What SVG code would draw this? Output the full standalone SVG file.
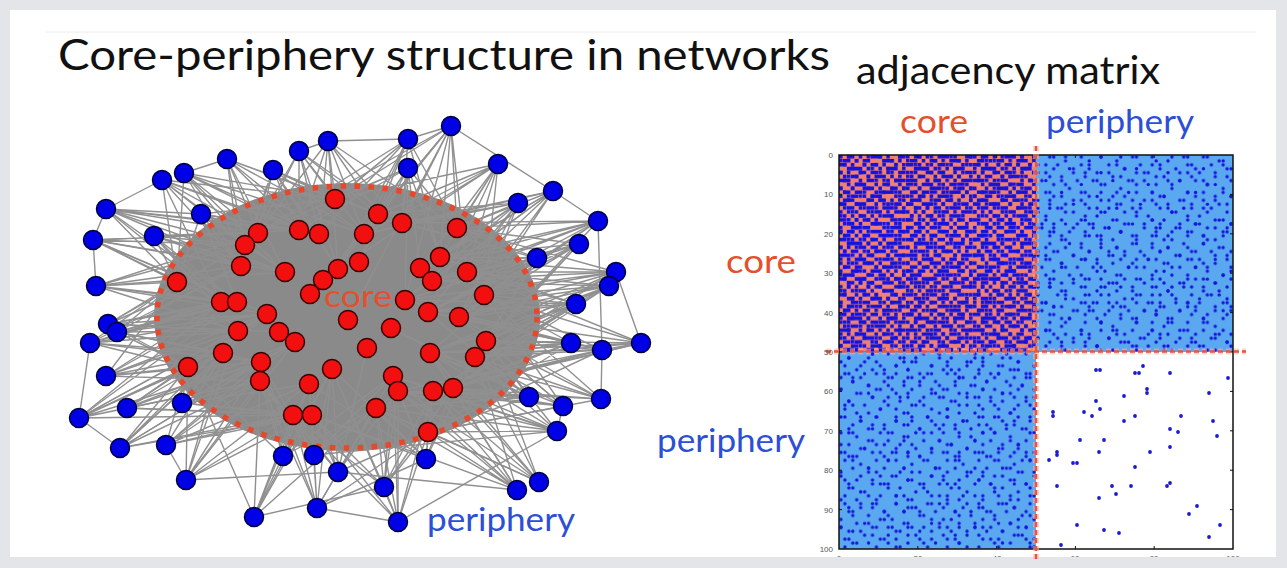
<svg xmlns="http://www.w3.org/2000/svg" width="1287" height="568" viewBox="0 0 1287 568">
<style>
.t{font-family:Lato,"Open Sans","Liberation Sans",sans-serif}
.core{fill:#e4502c}
.per{fill:#2b4fd6}
.bn{fill:#0000e6;stroke:#00003a;stroke-width:1.5}
.rn{fill:#f20f0f;stroke:#3a0000;stroke-width:1.5}
.tick{font-family:"Liberation Sans",Arial,sans-serif;font-size:8px;fill:#555}
.edge{fill:none;stroke:#909090;stroke-width:1.4;stroke-linejoin:round}
</style>
<defs>
<clipPath id="slide"><rect x="10" y="10" width="1266" height="547"/></clipPath>
<!-- dense block of the adjacency matrix: two co-prime tiles of filled cells -->
<pattern id="pA" patternUnits="userSpaceOnUse" width="17" height="19" patternTransform="translate(839 155) scale(3.94)">
<path fill="#1414dc" d="M0 0h.9v.9h-.9zM2 0h1.9v.9h-1.9zM5 0h.9v.9h-.9zM8 0h2.9v.9h-2.9zM12 0h.9v.9h-.9zM15 0h1.9v.9h-1.9z
M1 1h1.9v.9h-1.9zM4 1h.9v.9h-.9zM6 1h1.9v.9h-1.9zM11 1h2.9v.9h-2.9zM15 1h.9v.9h-.9z
M0 2h1.9v.9h-1.9zM3 2h.9v.9h-.9zM6 2h.9v.9h-.9zM8 2h1.9v.9h-1.9zM11 2h.9v.9h-.9zM14 2h.9v.9h-.9zM16 2h.9v.9h-.9z
M2 3h3.9v.9h-3.9zM7 3h.9v.9h-.9zM10 3h.9v.9h-.9zM12 3h2.9v.9h-2.9z
M0 4h.9v.9h-.9zM2 4h.9v.9h-.9zM5 4h1.9v.9h-1.9zM8 4h1.9v.9h-1.9zM12 4h.9v.9h-.9zM15 4h1.9v.9h-1.9z
M1 5h.9v.9h-.9zM3 5h1.9v.9h-1.9zM7 5h.9v.9h-.9zM9 5h2.9v.9h-2.9zM13 5h.9v.9h-.9z
M0 6h2.9v.9h-2.9zM5 6h.9v.9h-.9zM7 6h1.9v.9h-1.9zM12 6h.9v.9h-.9zM14 6h2.9v.9h-2.9z
M2 7h.9v.9h-.9zM4 7h2.9v.9h-2.9zM9 7h.9v.9h-.9zM11 7h1.9v.9h-1.9zM15 7h.9v.9h-.9z
M0 8h.9v.9h-.9zM3 8h.9v.9h-.9zM6 8h2.9v.9h-2.9zM10 8h.9v.9h-.9zM13 8h1.9v.9h-1.9zM16 8h.9v.9h-.9z
M1 9h1.9v.9h-1.9zM4 9h1.9v.9h-1.9zM9 9h.9v.9h-.9zM11 9h2.9v.9h-2.9zM15 9h.9v.9h-.9z
M0 10h.9v.9h-.9zM3 10h1.9v.9h-1.9zM6 10h.9v.9h-.9zM8 10h2.9v.9h-2.9zM14 10h.9v.9h-.9zM16 10h.9v.9h-.9z
M1 11h2.9v.9h-2.9zM7 11h1.9v.9h-1.9zM10 11h1.9v.9h-1.9zM13 11h.9v.9h-.9zM16 11h.9v.9h-.9z
M0 12h1.9v.9h-1.9zM4 12h2.9v.9h-2.9zM9 12h.9v.9h-.9zM12 12h.9v.9h-.9zM14 12h1.9v.9h-1.9z
M2 13h1.9v.9h-1.9zM5 13h.9v.9h-.9zM7 13h1.9v.9h-1.9zM11 13h2.9v.9h-2.9zM16 13h.9v.9h-.9z
M0 14h.9v.9h-.9zM2 14h.9v.9h-.9zM4 14h.9v.9h-.9zM7 14h.9v.9h-.9zM9 14h1.9v.9h-1.9zM14 14h2.9v.9h-2.9z
M1 15h.9v.9h-.9zM3 15h.9v.9h-.9zM5 15h1.9v.9h-1.9zM8 15h.9v.9h-.9zM11 15h2.9v.9h-2.9z
M0 16h1.9v.9h-1.9zM4 16h.9v.9h-.9zM6 16h1.9v.9h-1.9zM9 16h.9v.9h-.9zM13 16h1.9v.9h-1.9zM16 16h.9v.9h-.9z
M2 17h1.9v.9h-1.9zM5 17h.9v.9h-.9zM8 17h2.9v.9h-2.9zM12 17h.9v.9h-.9zM15 17h.9v.9h-.9z
M0 18h.9v.9h-.9zM3 18h1.9v.9h-1.9zM6 18h1.9v.9h-1.9zM11 18h.9v.9h-.9zM13 18h2.9v.9h-2.9z"/>
</pattern>
<pattern id="pB" patternUnits="userSpaceOnUse" width="13" height="11" patternTransform="translate(839 155) scale(3.94)">
<path fill="#1414dc" d="M2 0h.9v.9h-.9zM7 0h.9v.9h-.9zM10 0h.9v.9h-.9zM0 1h.9v.9h-.9zM4 1h.9v.9h-.9zM11 1h.9v.9h-.9zM1 2h.9v.9h-.9zM6 2h.9v.9h-.9zM9 2h.9v.9h-.9zM3 3h.9v.9h-.9zM8 3h.9v.9h-.9zM12 3h.9v.9h-.9zM0 4h.9v.9h-.9zM5 4h.9v.9h-.9zM10 4h.9v.9h-.9zM2 5h.9v.9h-.9zM4 5h.9v.9h-.9zM7 5h.9v.9h-.9zM1 6h.9v.9h-.9zM9 6h.9v.9h-.9zM11 6h.9v.9h-.9zM4 7h1.9v.9h-1.9zM12 7h.9v.9h-.9zM0 8h.9v.9h-.9zM3 8h.9v.9h-.9zM7 8h.9v.9h-.9zM1 9h.9v.9h-.9zM6 9h.9v.9h-.9zM10 9h1.9v.9h-1.9zM2 10h.9v.9h-.9zM5 10h.9v.9h-.9zM8 10h.9v.9h-.9z"/>
</pattern>
<!-- sparse core-periphery blocks -->
<pattern id="pC" patternUnits="userSpaceOnUse" width="13" height="11" patternTransform="translate(839 155) scale(3.94)">
<g fill="#1414dc"><circle cx="1.5" cy=".5" r=".43"/><circle cx="9.5" cy=".5" r=".43"/><circle cx="5.5" cy="1.5" r=".43"/><circle cx="3.5" cy="2.5" r=".43"/><circle cx="11.5" cy="2.5" r=".43"/><circle cx="7.5" cy="3.5" r=".43"/><circle cx=".5" cy="4.5" r=".43"/><circle cx="10.5" cy="4.5" r=".43"/><circle cx="4.5" cy="5.5" r=".43"/><circle cx="8.5" cy="6.5" r=".43"/><circle cx="12.5" cy="6.5" r=".43"/><circle cx="2.5" cy="7.5" r=".43"/><circle cx="6.5" cy="8.5" r=".43"/><circle cx="1.5" cy="9.5" r=".43"/><circle cx="10.5" cy="9.5" r=".43"/><circle cx="4.5" cy="10.5" r=".43"/></g>
</pattern>
<pattern id="pD" patternUnits="userSpaceOnUse" width="9" height="7" patternTransform="translate(839 155) scale(3.94)">
<g fill="#1414dc"><circle cx="3.5" cy=".5" r=".43"/><circle cx="7.5" cy="2.5" r=".43"/><circle cx=".5" cy="3.5" r=".43"/><circle cx="5.5" cy="4.5" r=".43"/><circle cx="8.5" cy="5.5" r=".43"/><circle cx="2.5" cy="6.5" r=".43"/></g>
</pattern>
<pattern id="pE" patternUnits="userSpaceOnUse" width="17" height="19" patternTransform="translate(839 155) scale(3.94)">
<g fill="#1414dc"><circle cx="3.5" cy=".5" r=".43"/><circle cx="12.5" cy="1.5" r=".43"/><circle cx="7.5" cy="3.5" r=".43"/><circle cx="15.5" cy="4.5" r=".43"/><circle cx="1.5" cy="6.5" r=".43"/><circle cx="10.5" cy="7.5" r=".43"/><circle cx="5.5" cy="9.5" r=".43"/><circle cx="14.5" cy="10.5" r=".43"/><circle cx="8.5" cy="12.5" r=".43"/><circle cx="2.5" cy="13.5" r=".43"/><circle cx="16.5" cy="14.5" r=".43"/><circle cx="11.5" cy="16.5" r=".43"/><circle cx="6.5" cy="17.5" r=".43"/><circle cx=".5" cy="18.5" r=".43"/><circle cx="13.5" cy="18.5" r=".43"/></g>
</pattern>
</defs>

<!-- page background and slide -->
<rect width="1287" height="568" fill="#e4e5e8"/>
<rect x="10" y="10" width="1266" height="547" fill="#fff"/>
<line x1="45" y1="32" x2="1256" y2="32" stroke="#ececec" stroke-width="1"/>

<text class="t" x="58" y="70" font-size="43" fill="#111" textLength="772" lengthAdjust="spacingAndGlyphs">Core-periphery structure in networks</text>
<text class="t" x="856" y="84" font-size="39" fill="#111" textLength="304" lengthAdjust="spacingAndGlyphs">adjacency matrix</text>

<!-- network: dense core of edges -->
<ellipse cx="347" cy="317" rx="193" ry="134" fill="#8a8a8a"/>

<g id="connectors" class="edge">
<path d="M451 126L335 199 451 126 378 214 451 126 402 223 451 126 457 228 451 126 364 234 451 126 440 257 451 126 467 272 451 126 348 320 451 126 553 191 451 126 408 139"/>
<path d="M408 139L335 199 408 139 378 214 408 139 299 230 408 139 319 234 408 139 364 234 408 139 402 223 408 139 359 262 408 139 338 269"/>
<path d="M408 168L335 199 408 168 402 223 408 168 457 228 408 168 364 234 408 168 359 262 408 168 420 268 408 168 338 269 408 168 258 233"/>
<path d="M498 164L378 214 498 164 402 223 498 164 457 228 498 164 440 257 498 164 467 272 498 164 484 295 498 164 338 269 498 164 364 234"/>
<path d="M553 191L457 228 553 191 440 257 553 191 467 272 553 191 484 295 553 191 432 281 553 191 459 317 553 191 402 223 553 191 598 221"/>
<path d="M518 203L402 223 518 203 457 228 518 203 420 268 518 203 467 272 518 203 484 295 518 203 428 312 518 203 364 234 518 203 405 300"/>
<path d="M598 221L457 228 598 221 467 272 598 221 484 295 598 221 459 317 598 221 486 341 598 221 432 281 598 221 440 257 598 221 602 350"/>
<path d="M579 244L440 257 579 244 467 272 579 244 484 295 579 244 459 317 579 244 486 341 579 244 475 357 579 244 432 281"/>
<path d="M537 258L457 228 537 258 467 272 537 258 484 295 537 258 432 281 537 258 428 312 537 258 459 317 537 258 486 341 537 258 430 353 537 258 405 300"/>
<path d="M616 272L467 272 616 272 484 295 616 272 459 317 616 272 486 341 616 272 475 357 616 272 405 300 616 272 440 257 616 272 641 343"/>
<path d="M609 286L484 295 609 286 459 317 609 286 486 341 609 286 475 357 609 286 430 353 609 286 428 312 609 286 453 388"/>
<path d="M576 304L484 295 576 304 459 317 576 304 486 341 576 304 475 357 576 304 430 353 576 304 453 388 576 304 405 300 576 304 467 272"/>
<path d="M571 343L486 341 571 343 475 357 571 343 453 388 571 343 430 353 571 343 459 317 571 343 433 391 571 343 484 295"/>
<path d="M602 350L486 341 602 350 475 357 602 350 453 388 602 350 433 391 602 350 459 317 602 350 484 295 602 350 428 432 602 350 641 343 602 350 601 399"/>
<path d="M641 343L486 341 641 343 475 357 641 343 484 295 641 343 459 317 641 343 453 388"/>
<path d="M529 397L475 357 529 397 453 388 529 397 433 391 529 397 428 432 529 397 430 353 529 397 398 391 529 397 486 341"/>
<path d="M563 406L475 357 563 406 453 388 563 406 433 391 563 406 428 432 563 406 486 341 563 406 430 353 563 406 557 431"/>
<path d="M601 399L475 357 601 399 453 388 601 399 486 341 601 399 433 391 601 399 428 432"/>
<path d="M557 431L453 388 557 431 433 391 557 431 428 432 557 431 398 391 557 431 376 408 557 431 475 357 557 431 398 522"/>
<path d="M426 459L428 432 426 459 376 408 426 459 398 391 426 459 433 391 426 459 393 376 426 459 312 415 426 459 453 388"/>
<path d="M338 472L312 415 338 472 293 415 338 472 376 408 338 472 428 432 338 472 309 384 338 472 332 369 338 472 398 391 338 472 517 490"/>
<path d="M384 487L376 408 384 487 428 432 384 487 398 391 384 487 312 415 384 487 293 415 384 487 393 376 384 487 433 391 384 487 398 522"/>
<path d="M517 490L428 432 517 490 433 391 517 490 453 388 517 490 376 408 517 490 398 391 517 490 475 357"/>
<path d="M539 482L428 432 539 482 453 388 539 482 433 391 539 482 475 357 539 482 398 391"/>
<path d="M398 522L376 408 398 522 428 432 398 522 312 415 398 522 398 391 398 522 293 415 398 522 317 508"/>
<path d="M317 508L293 415 317 508 312 415 317 508 309 384 317 508 376 408 317 508 260 381 317 508 428 432 317 508 314 455 317 508 426 459"/>
<path d="M254 517L293 415 254 517 260 381 254 517 312 415 254 517 261 362 254 517 309 384 254 517 283 456 254 517 384 487"/>
<path d="M186 480L293 415 186 480 260 381 186 480 188 367 186 480 261 362 186 480 223 353 186 480 312 415 186 480 166 445 186 480 338 472"/>
<path d="M283 456L293 415 283 456 312 415 283 456 260 381 283 456 309 384 283 456 261 362 283 456 376 408"/>
<path d="M314 455L293 415 314 455 312 415 314 455 309 384 314 455 332 369 314 455 376 408 314 455 260 381 314 455 557 431"/>
<path d="M166 445L188 367 166 445 260 381 166 445 223 353 166 445 261 362 166 445 293 415 166 445 238 331"/>
<path d="M120 448L188 367 120 448 223 353 120 448 260 381 120 448 261 362 120 448 238 331 120 448 293 415 120 448 79 418"/>
<path d="M79 418L188 367 79 418 223 353 79 418 238 331 79 418 221 302 79 418 261 362 79 418 260 381 79 418 90 343 79 418 127 408"/>
<path d="M127 408L188 367 127 408 223 353 127 408 260 381 127 408 238 331 127 408 261 362 127 408 293 415"/>
<path d="M182 403L188 367 182 403 260 381 182 403 261 362 182 403 223 353 182 403 293 415 182 403 238 331"/>
<path d="M106 376L188 367 106 376 223 353 106 376 238 331 106 376 221 302 106 376 177 282 106 376 261 362"/>
<path d="M90 343L177 282 90 343 221 302 90 343 188 367 90 343 238 331 90 343 223 353 90 343 237 302"/>
<path d="M108 324L177 282 108 324 221 302 108 324 237 302 108 324 188 367 108 324 238 331 108 324 241 266"/>
<path d="M117 332L177 282 117 332 221 302 117 332 238 331 117 332 188 367 117 332 223 353 117 332 237 302"/>
<path d="M96 286L177 282 96 286 221 302 96 286 241 266 96 286 237 302 96 286 245 245 96 286 238 331 96 286 93 240"/>
<path d="M93 240L177 282 93 240 241 266 93 240 245 245 93 240 221 302 93 240 258 233 93 240 237 302 93 240 106 209"/>
<path d="M106 209L245 245 106 209 258 233 106 209 241 266 106 209 177 282 106 209 299 230 106 209 237 302 106 209 162 180 106 209 201 214"/>
<path d="M154 236L177 282 154 236 245 245 154 236 241 266 154 236 258 233 154 236 221 302 154 236 285 272"/>
<path d="M201 214L258 233 201 214 245 245 201 214 241 266 201 214 177 282 201 214 299 230 201 214 335 199"/>
<path d="M162 180L258 233 162 180 245 245 162 180 299 230 162 180 177 282 162 180 241 266 162 180 335 199"/>
<path d="M184 173L258 233 184 173 245 245 184 173 299 230 184 173 319 234 184 173 335 199 184 173 241 266 184 173 227 159"/>
<path d="M227 159L335 199 227 159 258 233 227 159 299 230 227 159 319 234 227 159 245 245 227 159 378 214"/>
<path d="M273 170L335 199 273 170 299 230 273 170 319 234 273 170 258 233 273 170 364 234 273 170 378 214"/>
<path d="M299 151L335 199 299 151 378 214 299 151 299 230 299 151 319 234 299 151 364 234 299 151 258 233"/>
<path d="M328 141L335 199 328 141 378 214 328 141 364 234 328 141 319 234 328 141 299 230 328 141 402 223 328 141 299 151 328 141 408 139"/>
<!-- longer links from each periphery node deeper into the core -->
<path d="M451 126L258 233 451 126 405 300 451 126 323 280M408 139L457 228 408 139 440 257 408 139 258 233M408 168L299 230 408 168 440 257 408 168 405 300M498 164L335 199 498 164 420 268 498 164 428 312M553 191L364 234 553 191 420 268 553 191 405 300M518 203L378 214 518 203 440 257 518 203 459 317M598 221L402 223 598 221 420 268 598 221 428 312M579 244L457 228 579 244 428 312 579 244 405 300M537 258L402 223 537 258 440 257 537 258 475 357M616 272L457 228 616 272 432 281 616 272 430 353M609 286L467 272 609 286 432 281 609 286 433 391M576 304L440 257 576 304 428 312 576 304 433 391M571 343L405 300 571 343 428 312 571 343 428 432M602 350L405 300 602 350 430 353 602 350 398 391M641 343L467 272 641 343 430 353 641 343 433 391M529 397L428 312 529 397 391 328 529 397 376 408M563 406L459 317 563 406 484 295 563 406 398 391M601 399L459 317 601 399 430 353 601 399 484 295M557 431L430 353 557 431 486 341 557 431 393 376M426 459L475 357 426 459 332 369 426 459 309 384M338 472L393 376 338 472 260 381 338 472 367 348M384 487L332 369 384 487 453 388 384 487 475 357M517 490L430 353 517 490 393 376 517 490 312 415M539 482L486 341 539 482 430 353 539 482 376 408M398 522L393 376 398 522 433 391 398 522 332 369M317 508L332 369 317 508 393 376 317 508 261 362M254 517L188 367 254 517 332 369 254 517 376 408M186 480L238 331 186 480 295 342 186 480 309 384M283 456L188 367 283 456 393 376 283 456 332 369M314 455L398 391 314 455 261 362 314 455 393 376M166 445L309 384 166 445 312 415 166 445 295 342M120 448L312 415 120 448 295 342 120 448 267 314M79 418L267 314 79 418 293 415 79 418 237 302M127 408L267 314 127 408 295 342 127 408 312 415M182 403L312 415 182 403 295 342 182 403 309 384M106 376L260 381 106 376 267 314 106 376 237 302M90 343L267 314 90 343 261 362 90 343 241 266M108 324L267 314 108 324 245 245 108 324 279 332M117 332L267 314 117 332 261 362 117 332 241 266M96 286L267 314 96 286 258 233 96 286 285 272M93 240L299 230 93 240 285 272 93 240 267 314M106 209L221 302 106 209 285 272 106 209 319 234M154 236L299 230 154 236 237 302 154 236 238 331M201 214L319 234 201 214 285 272 201 214 237 302M162 180L319 234 162 180 285 272 162 180 221 302M184 173L285 272 184 173 177 282 184 173 364 234M227 159L241 266 227 159 285 272 227 159 364 234M273 170L245 245 273 170 241 266 273 170 338 269M299 151L245 245 299 151 338 269 299 151 402 223M328 141L258 233 328 141 338 269 328 141 457 228"/>
</g>

<!-- boundary of the core -->
<ellipse cx="347" cy="317" rx="190" ry="131" fill="none" stroke="#e8472a" stroke-width="5.5" stroke-dasharray="5.5 8.5"/>
<text class="t core" x="324" y="307" font-size="30" textLength="68" lengthAdjust="spacingAndGlyphs">core</text>

<!-- core nodes -->
<g id="core-01"><circle class="rn" cx="335" cy="199" r="9.5"/></g>
<g id="core-02"><circle class="rn" cx="378" cy="214" r="9.5"/></g>
<g id="core-03"><circle class="rn" cx="402" cy="223" r="9.5"/></g>
<g id="core-04"><circle class="rn" cx="457" cy="228" r="9.5"/></g>
<g id="core-05"><circle class="rn" cx="258" cy="233" r="9.5"/></g>
<g id="core-06"><circle class="rn" cx="245" cy="245" r="9.5"/></g>
<g id="core-07"><circle class="rn" cx="299" cy="230" r="9.5"/></g>
<g id="core-08"><circle class="rn" cx="319" cy="234" r="9.5"/></g>
<g id="core-09"><circle class="rn" cx="364" cy="234" r="9.5"/></g>
<g id="core-10"><circle class="rn" cx="241" cy="266" r="9.5"/></g>
<g id="core-11"><circle class="rn" cx="285" cy="272" r="9.5"/></g>
<g id="core-12"><circle class="rn" cx="338" cy="269" r="9.5"/></g>
<g id="core-13"><circle class="rn" cx="323" cy="280" r="9.5"/></g>
<g id="core-14"><circle class="rn" cx="310" cy="294" r="9.5"/></g>
<g id="core-15"><circle class="rn" cx="359" cy="262" r="9.5"/></g>
<g id="core-16"><circle class="rn" cx="440" cy="257" r="9.5"/></g>
<g id="core-17"><circle class="rn" cx="420" cy="268" r="9.5"/></g>
<g id="core-18"><circle class="rn" cx="432" cy="281" r="9.5"/></g>
<g id="core-19"><circle class="rn" cx="467" cy="272" r="9.5"/></g>
<g id="core-20"><circle class="rn" cx="484" cy="295" r="9.5"/></g>
<g id="core-21"><circle class="rn" cx="405" cy="300" r="9.5"/></g>
<g id="core-22"><circle class="rn" cx="177" cy="282" r="9.5"/></g>
<g id="core-23"><circle class="rn" cx="221" cy="302" r="9.5"/></g>
<g id="core-24"><circle class="rn" cx="237" cy="302" r="9.5"/></g>
<g id="core-25"><circle class="rn" cx="267" cy="314" r="9.5"/></g>
<g id="core-26"><circle class="rn" cx="348" cy="320" r="9.5"/></g>
<g id="core-27"><circle class="rn" cx="428" cy="312" r="9.5"/></g>
<g id="core-28"><circle class="rn" cx="459" cy="317" r="9.5"/></g>
<g id="core-29"><circle class="rn" cx="391" cy="328" r="9.5"/></g>
<g id="core-30"><circle class="rn" cx="238" cy="331" r="9.5"/></g>
<g id="core-31"><circle class="rn" cx="279" cy="332" r="9.5"/></g>
<g id="core-32"><circle class="rn" cx="295" cy="342" r="9.5"/></g>
<g id="core-33"><circle class="rn" cx="223" cy="353" r="9.5"/></g>
<g id="core-34"><circle class="rn" cx="188" cy="367" r="9.5"/></g>
<g id="core-35"><circle class="rn" cx="261" cy="362" r="9.5"/></g>
<g id="core-36"><circle class="rn" cx="260" cy="381" r="9.5"/></g>
<g id="core-37"><circle class="rn" cx="332" cy="369" r="9.5"/></g>
<g id="core-38"><circle class="rn" cx="309" cy="384" r="9.5"/></g>
<g id="core-39"><circle class="rn" cx="293" cy="415" r="9.5"/></g>
<g id="core-40"><circle class="rn" cx="312" cy="415" r="9.5"/></g>
<g id="core-41"><circle class="rn" cx="367" cy="348" r="9.5"/></g>
<g id="core-42"><circle class="rn" cx="430" cy="353" r="9.5"/></g>
<g id="core-43"><circle class="rn" cx="486" cy="341" r="9.5"/></g>
<g id="core-44"><circle class="rn" cx="475" cy="357" r="9.5"/></g>
<g id="core-45"><circle class="rn" cx="393" cy="376" r="9.5"/></g>
<g id="core-46"><circle class="rn" cx="398" cy="391" r="9.5"/></g>
<g id="core-47"><circle class="rn" cx="433" cy="391" r="9.5"/></g>
<g id="core-48"><circle class="rn" cx="453" cy="388" r="9.5"/></g>
<g id="core-49"><circle class="rn" cx="376" cy="408" r="9.5"/></g>
<g id="core-50"><circle class="rn" cx="428" cy="432" r="9.5"/></g>

<!-- periphery nodes -->
<g id="periphery-01"><circle class="bn" cx="451" cy="126" r="9.5"/></g>
<g id="periphery-02"><circle class="bn" cx="408" cy="139" r="9.5"/></g>
<g id="periphery-03"><circle class="bn" cx="408" cy="168" r="9.5"/></g>
<g id="periphery-04"><circle class="bn" cx="498" cy="164" r="9.5"/></g>
<g id="periphery-05"><circle class="bn" cx="553" cy="191" r="9.5"/></g>
<g id="periphery-06"><circle class="bn" cx="518" cy="203" r="9.5"/></g>
<g id="periphery-07"><circle class="bn" cx="598" cy="221" r="9.5"/></g>
<g id="periphery-08"><circle class="bn" cx="579" cy="244" r="9.5"/></g>
<g id="periphery-09"><circle class="bn" cx="537" cy="258" r="9.5"/></g>
<g id="periphery-10"><circle class="bn" cx="616" cy="272" r="9.5"/></g>
<g id="periphery-11"><circle class="bn" cx="609" cy="286" r="9.5"/></g>
<g id="periphery-12"><circle class="bn" cx="576" cy="304" r="9.5"/></g>
<g id="periphery-13"><circle class="bn" cx="571" cy="343" r="9.5"/></g>
<g id="periphery-14"><circle class="bn" cx="602" cy="350" r="9.5"/></g>
<g id="periphery-15"><circle class="bn" cx="641" cy="343" r="9.5"/></g>
<g id="periphery-16"><circle class="bn" cx="529" cy="397" r="9.5"/></g>
<g id="periphery-17"><circle class="bn" cx="563" cy="406" r="9.5"/></g>
<g id="periphery-18"><circle class="bn" cx="601" cy="399" r="9.5"/></g>
<g id="periphery-19"><circle class="bn" cx="557" cy="431" r="9.5"/></g>
<g id="periphery-20"><circle class="bn" cx="426" cy="459" r="9.5"/></g>
<g id="periphery-21"><circle class="bn" cx="338" cy="472" r="9.5"/></g>
<g id="periphery-22"><circle class="bn" cx="384" cy="487" r="9.5"/></g>
<g id="periphery-23"><circle class="bn" cx="517" cy="490" r="9.5"/></g>
<g id="periphery-24"><circle class="bn" cx="539" cy="482" r="9.5"/></g>
<g id="periphery-25"><circle class="bn" cx="398" cy="522" r="9.5"/></g>
<g id="periphery-26"><circle class="bn" cx="317" cy="508" r="9.5"/></g>
<g id="periphery-27"><circle class="bn" cx="254" cy="517" r="9.5"/></g>
<g id="periphery-28"><circle class="bn" cx="186" cy="480" r="9.5"/></g>
<g id="periphery-29"><circle class="bn" cx="283" cy="456" r="9.5"/></g>
<g id="periphery-30"><circle class="bn" cx="314" cy="455" r="9.5"/></g>
<g id="periphery-31"><circle class="bn" cx="166" cy="445" r="9.5"/></g>
<g id="periphery-32"><circle class="bn" cx="120" cy="448" r="9.5"/></g>
<g id="periphery-33"><circle class="bn" cx="79" cy="418" r="9.5"/></g>
<g id="periphery-34"><circle class="bn" cx="127" cy="408" r="9.5"/></g>
<g id="periphery-35"><circle class="bn" cx="182" cy="403" r="9.5"/></g>
<g id="periphery-36"><circle class="bn" cx="106" cy="376" r="9.5"/></g>
<g id="periphery-37"><circle class="bn" cx="90" cy="343" r="9.5"/></g>
<g id="periphery-38"><circle class="bn" cx="108" cy="324" r="9.5"/></g>
<g id="periphery-39"><circle class="bn" cx="117" cy="332" r="9.5"/></g>
<g id="periphery-40"><circle class="bn" cx="96" cy="286" r="9.5"/></g>
<g id="periphery-41"><circle class="bn" cx="93" cy="240" r="9.5"/></g>
<g id="periphery-42"><circle class="bn" cx="106" cy="209" r="9.5"/></g>
<g id="periphery-43"><circle class="bn" cx="154" cy="236" r="9.5"/></g>
<g id="periphery-44"><circle class="bn" cx="201" cy="214" r="9.5"/></g>
<g id="periphery-45"><circle class="bn" cx="162" cy="180" r="9.5"/></g>
<g id="periphery-46"><circle class="bn" cx="184" cy="173" r="9.5"/></g>
<g id="periphery-47"><circle class="bn" cx="227" cy="159" r="9.5"/></g>
<g id="periphery-48"><circle class="bn" cx="273" cy="170" r="9.5"/></g>
<g id="periphery-49"><circle class="bn" cx="299" cy="151" r="9.5"/></g>
<g id="periphery-50"><circle class="bn" cx="328" cy="141" r="9.5"/></g>

<text class="t per" x="427" y="531" font-size="33" textLength="148" lengthAdjust="spacingAndGlyphs">periphery</text>

<!-- adjacency matrix -->
<text class="t core" x="900" y="133" font-size="32" textLength="68" lengthAdjust="spacingAndGlyphs">core</text>
<text class="t per" x="1046" y="133" font-size="32" textLength="148" lengthAdjust="spacingAndGlyphs">periphery</text>
<text class="t core" x="726" y="273" font-size="33" textLength="70" lengthAdjust="spacingAndGlyphs">core</text>
<text class="t per" x="657" y="452" font-size="33" textLength="148" lengthAdjust="spacingAndGlyphs">periphery</text>

<rect x="839" y="155" width="197" height="197" fill="#f08072"/>
<rect x="839" y="155" width="197" height="197" fill="url(#pA)"/>
<rect x="839" y="155" width="197" height="197" fill="url(#pB)"/>
<rect x="1036" y="155" width="197" height="197" fill="#5aa8f0"/>
<rect x="1036" y="155" width="197" height="197" fill="url(#pC)"/>
<rect x="1036" y="155" width="197" height="197" fill="url(#pD)"/>
<rect x="1036" y="155" width="197" height="197" fill="url(#pE)"/>
<rect x="839" y="352" width="197" height="197" fill="#5aa8f0"/>
<rect x="839" y="352" width="197" height="197" fill="url(#pC)"/>
<rect x="839" y="352" width="197" height="197" fill="url(#pD)"/>
<rect x="839" y="352" width="197" height="197" fill="url(#pE)"/>
<g fill="#1a1ad0">
<circle cx="1096" cy="370" r="1.9"/><circle cx="1100" cy="370" r="1.9"/><circle cx="1135" cy="373" r="1.9"/><circle cx="1139" cy="373" r="1.9"/><circle cx="1143" cy="366" r="1.9"/><circle cx="1170" cy="373" r="1.9"/><circle cx="1228" cy="378" r="1.9"/><circle cx="1147" cy="389" r="1.9"/><circle cx="1147" cy="393" r="1.9"/><circle cx="1209" cy="393" r="1.9"/><circle cx="1124" cy="396" r="1.9"/><circle cx="1096" cy="401" r="1.9"/><circle cx="1053" cy="412" r="1.9"/><circle cx="1053" cy="416" r="1.9"/><circle cx="1084" cy="412" r="1.9"/><circle cx="1100" cy="409" r="1.9"/><circle cx="1092" cy="416" r="1.9"/><circle cx="1135" cy="416" r="1.9"/><circle cx="1181" cy="416" r="1.9"/><circle cx="1124" cy="421" r="1.9"/><circle cx="1213" cy="421" r="1.9"/><circle cx="1170" cy="429" r="1.9"/><circle cx="1178" cy="432" r="1.9"/><circle cx="1217" cy="436" r="1.9"/><circle cx="1080" cy="440" r="1.9"/><circle cx="1104" cy="440" r="1.9"/><circle cx="1170" cy="447" r="1.9"/><circle cx="1057" cy="452" r="1.9"/><circle cx="1057" cy="455" r="1.9"/><circle cx="1099" cy="452" r="1.9"/><circle cx="1150" cy="452" r="1.9"/><circle cx="1049" cy="460" r="1.9"/><circle cx="1073" cy="463" r="1.9"/><circle cx="1077" cy="463" r="1.9"/><circle cx="1135" cy="467" r="1.9"/><circle cx="1057" cy="486" r="1.9"/><circle cx="1112" cy="486" r="1.9"/><circle cx="1131" cy="486" r="1.9"/><circle cx="1167" cy="486" r="1.9"/><circle cx="1170" cy="483" r="1.9"/><circle cx="1116" cy="494" r="1.9"/><circle cx="1099" cy="498" r="1.9"/><circle cx="1197" cy="506" r="1.9"/><circle cx="1189" cy="514" r="1.9"/><circle cx="1220" cy="525" r="1.9"/><circle cx="1077" cy="525" r="1.9"/><circle cx="1104" cy="530" r="1.9"/><circle cx="1119" cy="533" r="1.9"/><circle cx="1209" cy="537" r="1.9"/><circle cx="1061" cy="545" r="1.9"/>
</g>
<rect x="839" y="155" width="394" height="394" fill="none" stroke="#111" stroke-width="1.5"/>
<path fill="none" stroke="#111" stroke-width="1" d="M1233 194.4h-3M1233 233.8h-3M1233 273.2h-3M1233 312.6h-3M1233 352h-3M1233 391.4h-3M1233 430.8h-3M1233 470.2h-3M1233 509.6h-3M839 194.4h3M839 233.8h3M839 273.2h3M839 312.6h3M839 352h3M839 391.4h3M839 430.8h3M839 470.2h3M839 509.6h3M917.8 549v-3M996.6 549v-3M1075.4 549v-3M1154.2 549v-3M917.8 155v3M996.6 155v3M1075.4 155v3M1154.2 155v3"/>

<!-- core / periphery split -->
<g fill="none" stroke-dasharray="5 3">
<path d="M826 351.5H1246M1036 146V560" stroke="#f6b4a4" stroke-width="6" opacity=".55"/>
<path d="M826 351.5H1246M1036 146V560" stroke="#e8553a" stroke-width="2.4"/>
</g>

<g class="tick" text-anchor="end">
<text x="833" y="158">0</text><text x="833" y="197">10</text><text x="833" y="237">20</text><text x="833" y="276">30</text><text x="833" y="316">40</text><text x="833" y="355">50</text><text x="833" y="394">60</text><text x="833" y="434">70</text><text x="833" y="473">80</text><text x="833" y="513">90</text><text x="833" y="552">100</text>
</g>
<g class="tick" text-anchor="middle" clip-path="url(#slide)">
<text x="839" y="561">0</text><text x="918" y="561">20</text><text x="997" y="561">40</text><text x="1075" y="561">60</text><text x="1154" y="561">80</text><text x="1233" y="561">100</text>
</g>
</svg>
